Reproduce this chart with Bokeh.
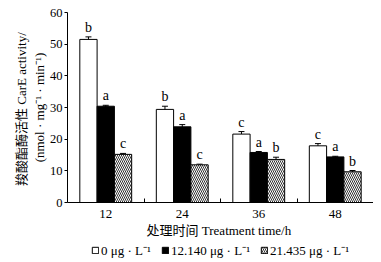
from bokeh.plotting import figure
from bokeh.layouts import column
from bokeh.models import (Range1d, FixedTicker, ColumnDataSource, Whisker, TeeHead,
                          Title, Legend, LegendItem)
from bokeh.core.properties import value
from bokeh.embed import file_html
from bokeh.resources import INLINE

# ---- data ----
times = ["12", "24", "36", "48"]
ctrl = [51.5, 29.4, 21.6, 17.9]
ctrl_err = [0.8, 1.0, 0.8, 0.7]
low = [30.4, 23.9, 15.8, 14.4]
low_err = [0.3, 0.7, 0.3, 0.2]
high = [15.2, 11.9, 13.6, 9.7]
high_err = [0.3, 0.2, 0.7, 0.4]
ctrl_sig = ["b", "b", "c", "c"]
low_sig = ["a", "a", "a", "a"]
high_sig = ["c", "c", "b", "b"]
series_names = ["0 μg · L⁻¹", "12.140 μg · L⁻¹", "21.435 μg · L⁻¹"]
y_ticks = [0, 10, 20, 30, 40, 50, 60]
y_label_1 = "羧酸酯酶活性  CarE activity/"
y_label_2 = "(nmol · mg⁻¹ · min⁻¹)"
x_label = "处理时间  Treatment time/h"

SERIF = "Liberation Serif"
MIXED = "Liberation Serif, Noto Sans CJK SC"

p = figure(width=373, height=244, output_backend="svg", toolbar_location=None,
           x_range=Range1d(0, len(times)), y_range=Range1d(0, 60),
           min_border_left=67, min_border_right=0, min_border_top=12,
           min_border_bottom=42)
p.outline_line_color = None
p.xgrid.visible = False
p.ygrid.visible = False
p.background_fill_color = "white"
p.border_fill_color = "white"

centers = [i + 0.5 for i in range(len(times))]
bw = 0.226
offsets = [-bw, 0.0, bw]
values = [ctrl, low, high]
errs = [ctrl_err, low_err, high_err]
sigs = [ctrl_sig, low_sig, high_sig]
styles = [
    dict(fill_color="white"),
    dict(fill_color="black"),
    dict(fill_color="white", hatch_pattern="left_diagonal_line", hatch_color="#333333",
         hatch_scale=4, hatch_weight=1),
]

sources = []
for vals, er, sg, off, st in zip(values, errs, sigs, offsets, styles):
    src = ColumnDataSource(dict(
        x=[c + off for c in centers],
        top=vals,
        upper=[v + e for v, e in zip(vals, er)],
        lower=[v - e for v, e in zip(vals, er)],
        sig=sg,
    ))
    sources.append(src)
    p.vbar(x="x", top="top", width=bw, source=src, line_color="black",
           line_width=1, **st)
    w = Whisker(source=src, base="x", upper="upper", lower="lower",
                line_color="black", line_width=1,
                upper_head=TeeHead(size=6, line_color="black", line_width=1),
                lower_head=TeeHead(size=6, line_color="black", line_width=1))
    p.add_layout(w)
    p.text(x="x", y="upper", text="sig", source=src, text_align="center",
           text_baseline="bottom", y_offset=-2, text_font=value(SERIF),
           text_font_size="14px", text_color="black")

# y axis
ya = p.yaxis[0]
ya.ticker = FixedTicker(ticks=y_ticks, minor_ticks=[])
ya.major_tick_out = 3
ya.major_tick_in = 0
ya.major_tick_line_color = "black"
ya.axis_line_color = "black"
ya.major_label_text_font = SERIF
ya.major_label_text_font_size = "12.5px"
ya.major_label_text_color = "black"
ya.major_label_standoff = 2
ya.axis_label = y_label_2
ya.axis_label_text_font = SERIF
ya.axis_label_text_font_size = "13px"
ya.axis_label_text_font_style = "normal"
ya.axis_label_text_color = "black"
ya.axis_label_standoff = 0

p.add_layout(Title(text=y_label_1, align="center", text_font=MIXED,
                   text_font_size="13px", text_font_style="normal",
                   text_color="black", offset=0, standoff=0), "left")

# x axis
xa = p.xaxis[0]
xa.ticker = FixedTicker(ticks=centers, minor_ticks=[i + 1 for i in range(len(times))])
xa.major_label_overrides = {c: t for c, t in zip(centers, times)}
xa.major_tick_line_color = None
xa.major_tick_out = 0
xa.major_tick_in = 0
xa.minor_tick_in = 4
xa.minor_tick_out = 0
xa.minor_tick_line_color = "black"
xa.axis_line_color = "black"
xa.major_label_text_font = SERIF
xa.major_label_text_font_size = "13px"
xa.major_label_text_color = "black"
xa.major_label_standoff = 7
xa.axis_label = x_label
xa.axis_label_text_font = MIXED
xa.axis_label_text_font_size = "13px"
xa.axis_label_text_font_style = "normal"
xa.axis_label_text_color = "black"
xa.axis_label_standoff = 2

# legend strip below the chart (its bars lie outside its visible range)
lf = figure(width=373, height=18, output_backend="svg", toolbar_location=None,
            x_axis_type=None, y_axis_type=None, min_border=0,
            x_range=Range1d(-100, -99), y_range=Range1d(0, 1))
lf.outline_line_color = None
lf.xgrid.visible = False
lf.ygrid.visible = False
items = []
for name, st, src in zip(series_names, styles, sources):
    r = lf.vbar(x="x", top="top", width=bw, source=src, line_color="black",
                line_width=1, **st)
    items.append(LegendItem(label=name, renderers=[r]))
legend = Legend(items=items, orientation="horizontal", location=(24, 3),
                glyph_width=8, glyph_height=8, label_standoff=2, spacing=10,
                padding=0, margin=0, border_line_color=None,
                background_fill_alpha=0, label_text_font=SERIF,
                label_text_font_size="13px", label_height=12, label_text_color="black")
lf.add_layout(legend)

open("out.html", "w").write(file_html(column(p, lf, spacing=0), INLINE))
